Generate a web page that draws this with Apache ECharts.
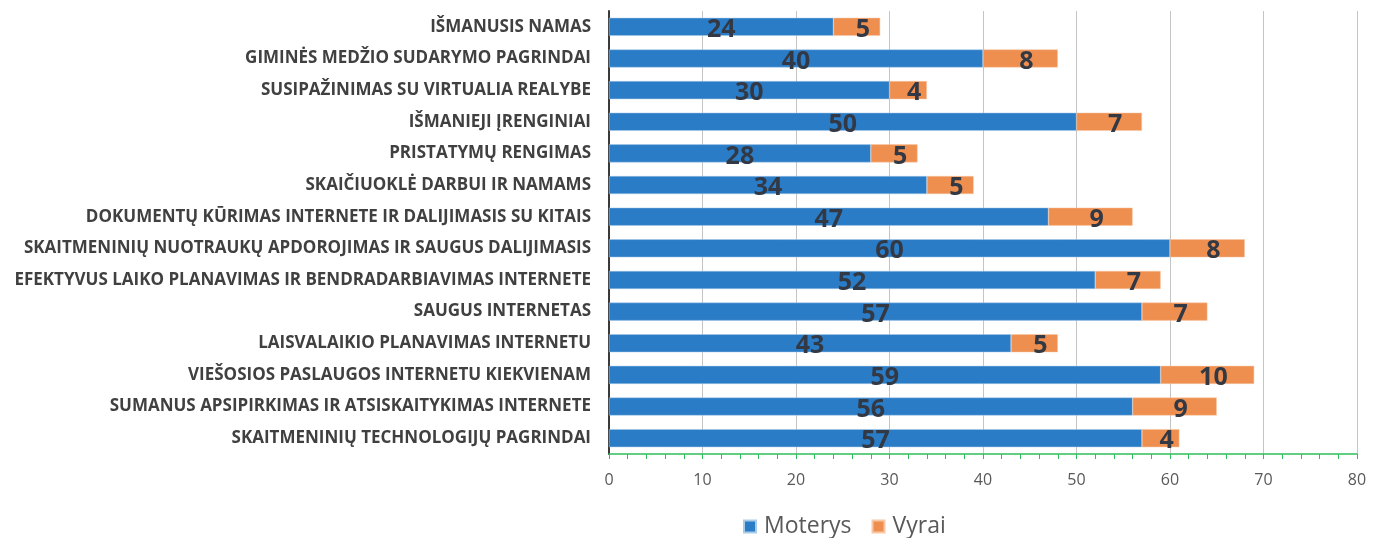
<!DOCTYPE html>
<html>
<head>
<meta charset="utf-8">
<script src="https://cdn.jsdelivr.net/npm/echarts@6/dist/echarts.min.js"></script>
<style>
  html, body { margin: 0; padding: 0; background: #fff; }
  #chart { width: 1386px; height: 538px; }
</style>
</head>
<body>
<div id="chart"></div>
<script>
// kursai, isvardinti is virsaus i apacia
var categories = [
  'IŠMANUSIS NAMAS',
  'GIMINĖS MEDŽIO SUDARYMO PAGRINDAI',
  'SUSIPAŽINIMAS SU VIRTUALIA REALYBE',
  'IŠMANIEJI ĮRENGINIAI',
  'PRISTATYMŲ RENGIMAS',
  'SKAIČIUOKLĖ DARBUI IR NAMAMS',
  'DOKUMENTŲ KŪRIMAS INTERNETE IR DALIJIMASIS SU KITAIS',
  'SKAITMENINIŲ NUOTRAUKŲ APDOROJIMAS IR SAUGUS DALIJIMASIS',
  'EFEKTYVUS LAIKO PLANAVIMAS IR BENDRADARBIAVIMAS INTERNETE',
  'SAUGUS INTERNETAS',
  'LAISVALAIKIO PLANAVIMAS INTERNETU',
  'VIEŠOSIOS PASLAUGOS INTERNETU KIEKVIENAM',
  'SUMANUS APSIPIRKIMAS IR ATSISKAITYKIMAS INTERNETE',
  'SKAITMENINIŲ TECHNOLOGIJŲ PAGRINDAI'
];
var moterys = [24, 40, 30, 50, 28, 34, 47, 60, 52, 57, 43, 59, 56, 57];
var vyrai = [5, 8, 4, 7, 5, 5, 9, 8, 7, 7, 5, 10, 9, 4];
var seriesNames = ['Moterys', 'Vyrai'];

var labelStyle = {
  show: true,
  position: 'inside',
  fontFamily: 'Open Sans',
  fontWeight: 'bold',
  fontSize: 25,
  color: '#333944',
  offset: [0, 3]
};

var chart = echarts.init(document.getElementById('chart'));
chart.setOption({
  animation: false,
  textStyle: { fontFamily: 'Open Sans' },
  grid: { left: 609, right: 29, top: 11, bottom: 84 },
  legend: {
    top: 510,
    left: 738,
    itemWidth: 12,
    itemHeight: 12,
    itemGap: 20,
    icon: 'rect',
    textStyle: { fontSize: 23, color: '#595959', fontFamily: 'Open Sans', padding: [0, 0, 0, 3] },
    data: seriesNames
  },
  xAxis: {
    type: 'value',
    min: 0,
    max: 80,
    interval: 10,
    axisLine: { show: true, lineStyle: { color: '#2fbf5a', width: 1.5 } },
    axisTick: { show: true, inside: false, length: 5, lineStyle: { color: '#2fbf5a' } },
    minorTick: { show: true, splitNumber: 5, length: 5, lineStyle: { color: '#2fbf5a' } },
    axisLabel: { fontSize: 16, color: '#595959', margin: 18 },
    splitLine: { show: true, lineStyle: { color: '#c4c4c4', width: 1 } }
  },
  yAxis: {
    type: 'category',
    inverse: true,
    data: categories,
    axisLine: { show: true, lineStyle: { color: '#3a3a3a', width: 2 } },
    axisTick: { show: false },
    axisLabel: {
      fontSize: 17,
      fontWeight: 'bold',
      color: '#404040',
      margin: 18
    }
  },
  series: [
    {
      name: seriesNames[0],
      type: 'bar',
      stack: 'total',
      barWidth: '57%',
      data: moterys,
      itemStyle: { color: '#2a7cc6', borderColor: '#a9cbe8', borderWidth: 0.5 },
      label: labelStyle
    },
    {
      name: seriesNames[1],
      type: 'bar',
      stack: 'total',
      data: vyrai,
      itemStyle: { color: '#ef8f4f', borderColor: '#f7c7a6', borderWidth: 0.5 },
      label: Object.assign({}, labelStyle, { offset: [6, 3] })
    }
  ]
});
</script>
</body>
</html>
